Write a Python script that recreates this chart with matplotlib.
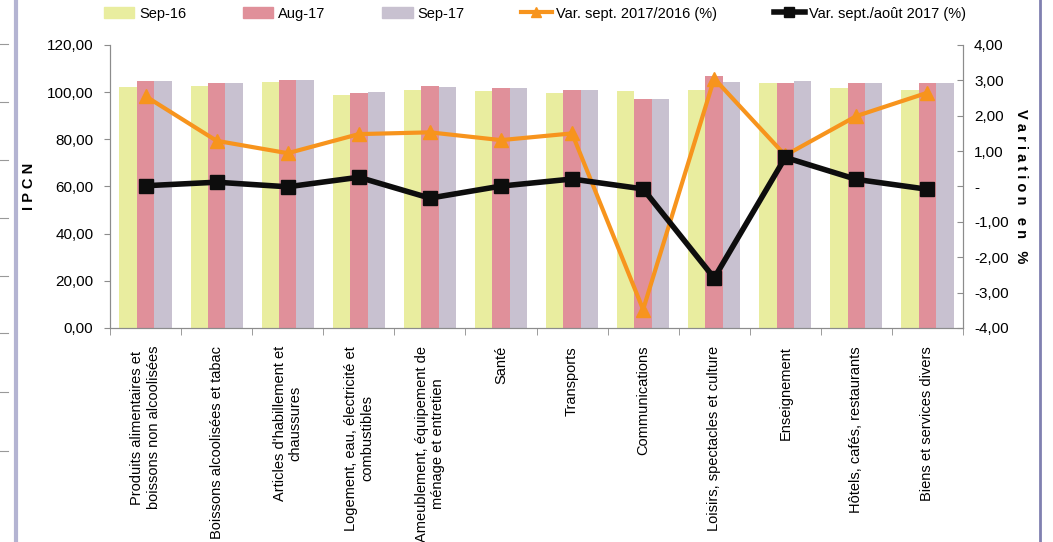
import numpy as np
import matplotlib.pyplot as plt
from matplotlib.lines import Line2D
from matplotlib.patches import Patch

plt.rcParams['font.family'] = ['Liberation Sans', 'DejaVu Sans']
plt.rcParams['font.size'] = 10.5

categories = [
    "Produits alimentaires et\nboissons non alcoolisées",
    "Boissons alcoolisées et tabac",
    "Articles d'habillement et\nchaussures",
    "Logement, eau, électricité et\ncombustibles",
    "Ameublement, équipement de\nménage et entretien",
    "Santé",
    "Transports",
    "Communications",
    "Loisirs, spectacles et culture",
    "Enseignement",
    "Hôtels, cafés, restaurants",
    "Biens et services divers",
]
sep16 = [102.2, 102.7, 104.2, 98.6, 100.7, 100.3, 99.6, 100.6, 101.1, 103.9, 101.8, 101.1]
aug17 = [104.8, 103.7, 105.2, 99.7, 102.7, 101.7, 100.8, 97.2, 106.9, 103.9, 103.7, 103.9]
sep17 = [104.8, 103.7, 105.2, 100.0, 102.3, 101.7, 101.0, 97.2, 104.2, 104.8, 103.9, 103.9]
var_annual = [2.55, 1.29, 0.94, 1.48, 1.53, 1.31, 1.50, -3.48, 3.05, 0.88, 1.99, 2.65]
var_monthly = [0.02, 0.12, -0.01, 0.26, -0.33, 0.01, 0.21, -0.07, -2.59, 0.82, 0.20, -0.08]

c16 = '#e9ed9f'
c_aug = '#e0909a'
c_sep = '#c8c1d0'
c_orange = '#f7941d'
c_black = '#0d0d0d'
grey = '#8c8c8c'

fig = plt.figure(figsize=(10.53, 5.42), dpi=100)
ax = fig.add_axes([0.1045, 0.395, 0.81, 0.522])
ax2 = ax.twinx()

x = np.arange(len(categories))
w = 0.245
ax.bar(x - w, sep16, w, color=c16)
ax.bar(x, aug17, w, color=c_aug)
ax.bar(x + w, sep17, w, color=c_sep)

ax.set_xlim(-0.5, len(categories) - 0.5)
ax.set_ylim(0, 120)
ax.set_yticks(np.arange(0, 121, 20))
ax.set_yticklabels([f'{v:.2f}'.replace('.', ',') for v in np.arange(0, 121, 20)], fontsize=11)
ax.set_xticks(x)
ax.set_xticklabels(categories, rotation=90, ha='center', va='top', multialignment='center')
ax.set_xticks(np.arange(-0.5, len(categories), 1), minor=True)
ax.tick_params(axis='x', which='major', length=0, pad=13)
ax.tick_params(axis='x', which='minor', length=5, color=grey)
ax.tick_params(axis='y', length=4, color=grey, pad=8)
ax.set_ylabel('I P C N', fontweight='bold', labelpad=8)

ax2.plot(x, var_annual, color=c_orange, lw=3, marker='^', ms=10, zorder=3)
ax2.plot(x, var_monthly, color=c_black, lw=4, marker='s', ms=10, zorder=4)
ax2.set_ylim(-4, 4)
yt2 = np.arange(-4, 5, 1)
ax2.set_yticks(yt2)
ax2.set_yticklabels(['-' if v == 0 else f'{v:.2f}'.replace('.', ',') for v in yt2], fontsize=11)
ax2.tick_params(axis='y', direction='in', length=4, color=grey, pad=8)
ax2.set_ylabel('V a r i a t i o n   e n   %', fontweight='bold', rotation=-90, labelpad=14)

for a in (ax, ax2):
    a.spines['top'].set_visible(False)
    for s in ('left', 'right', 'bottom'):
        a.spines[s].set_color(grey)

handles = [
    Patch(color=c16), Patch(color=c_aug), Patch(color=c_sep),
    Line2D([], [], color=c_orange, lw=3, marker='^', ms=7),
    Line2D([], [], color=c_black, lw=4, marker='s', ms=7),
]
labels = ['Sep-16', 'Aug-17', 'Sep-17', 'Var. sept. 2017/2016 (%)', 'Var. sept./août 2017 (%)']
fig.legend(handles, labels, ncol=5, loc='center', bbox_to_anchor=(0.508, 0.975),
           frameon=False, handlelength=2.1, handletextpad=0.3, columnspacing=3.9)

# page border lines from the source document
fig.add_artist(Line2D([0.015, 0.015], [0, 1], color='#b4b4d2', lw=3, transform=fig.transFigure))
fig.add_artist(Line2D([0.988, 0.988], [0, 1], color='#8080b0', lw=2, transform=fig.transFigure))
for yy in [44, 102, 160, 218, 276, 333, 392, 451]:
    fig.add_artist(Line2D([0, 0.008], [1 - yy / 542] * 2, color='#999999', lw=0.8, transform=fig.transFigure))

fig.savefig('out.png', dpi=100)
